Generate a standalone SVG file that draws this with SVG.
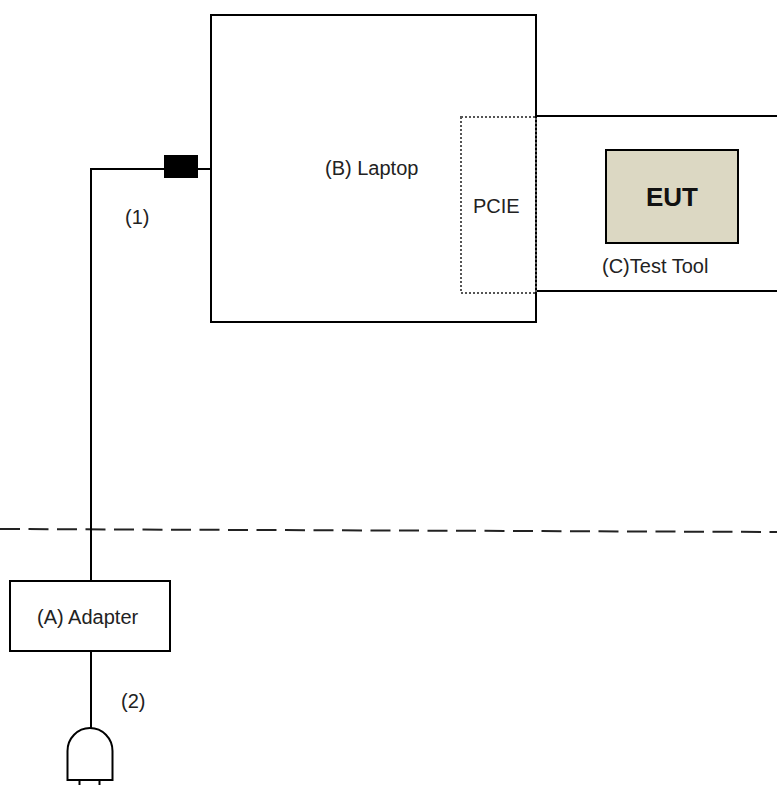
<svg xmlns="http://www.w3.org/2000/svg" width="777" height="785" viewBox="0 0 777 785">
<style>
.box{fill:#fff;stroke:#000;stroke-width:2}
.wire{fill:none;stroke:#000;stroke-width:2}
.lbl{font-family:"Liberation Sans",Arial,sans-serif;font-size:20px;fill:#222}
</style>
<rect width="777" height="785" fill="#fff"/>
<g id="divider">
<line x1="0" y1="529" x2="777" y2="532" stroke="#222" stroke-width="2" stroke-dasharray="20 8.5"/>
</g>
<g id="connectors">
<polyline class="wire" points="211,169 91,169 91,581"/>
<rect x="164" y="155" width="34" height="23" fill="#000"/>
<line class="wire" x1="91" y1="651" x2="91" y2="728"/>
<polyline class="wire" points="536,116 777,116"/>
<polyline class="wire" points="536,291 777,291"/>
<text class="lbl" x="125" y="224">(1)</text>
<text class="lbl" x="121" y="708">(2)</text>
</g>
<g id="laptop">
<rect class="box" x="211" y="15" width="325" height="307"/>
<text class="lbl" x="325" y="175">(B) Laptop</text>
</g>
<g id="pcie">
<rect x="461" y="117" width="75" height="176" fill="none" stroke="#555" stroke-width="2" stroke-dasharray="2 2"/>
<text class="lbl" x="473" y="213">PCIE</text>
</g>
<g id="testtool">
<rect x="606" y="150" width="132" height="93" fill="#dcd8c3" stroke="#000" stroke-width="2"/>
<text x="672" y="206" text-anchor="middle" font-family="Liberation Sans,Arial,sans-serif" font-size="26" font-weight="bold" fill="#111">EUT</text>
<text class="lbl" x="602" y="273">(C)Test Tool</text>
</g>
<g id="adapter">
<rect class="box" x="10" y="581" width="160" height="70"/>
<text class="lbl" x="37" y="624">(A) Adapter</text>
</g>
<g id="plug">
<path class="wire" d="M67.5,780 V751 A22.5,23 0 0 1 112.5,751 V780 Z"/>
<line class="wire" x1="79.5" y1="780" x2="79.5" y2="786"/>
<line class="wire" x1="99.5" y1="780" x2="99.5" y2="786"/>
</g>
</svg>
